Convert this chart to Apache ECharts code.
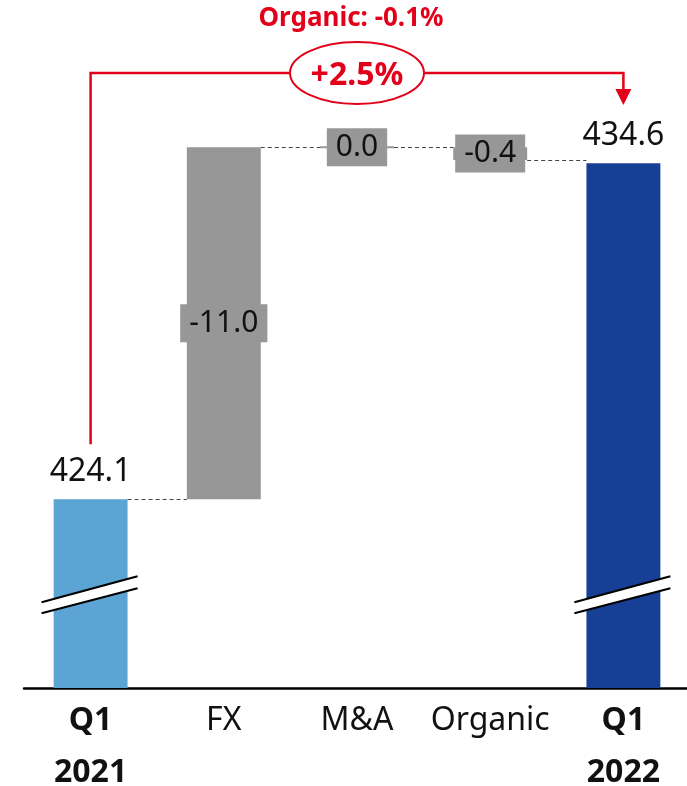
<!DOCTYPE html>
<html>
<head>
<meta charset="utf-8">
<script src="https://cdn.jsdelivr.net/npm/echarts@6/dist/echarts.min.js"></script>
<style>
  html, body { margin: 0; padding: 0; background: #ffffff; }
  #chart { width: 687px; height: 786px; }
</style>
</head>
<body>
<div id="chart"></div>
<script>
// Revenue bridge, Q1 2021 -> Q1 2022
const categories = ['Q1\n2021', 'FX', 'M&A', 'Organic', 'Q1\n2022'];
const openingValue = 424.1;
const closingValue = 434.6;
const stepLabels = [-11.0, 0.0, -0.4];   // values printed on the step bars
const stepMoves = [11.0, 0.0, -0.4];     // signed movement of each step on the bridge
const organicGrowthText = 'Organic: -0.1%';
const totalGrowthText = '+2.5%';
const axisMin = 418.2;
const axisMax = 438.2;
const breakValue = 421.1;                // where the broken-axis marks sit

const FONT = '"Noto Sans", "Open Sans", sans-serif';
const RED = '#E2001A';
const GRAY = '#979797';
const colors = ['#5BA4D4', GRAY, GRAY, GRAY, '#173F96'];

// Build floating bar spans and the connector level after each bar
const spans = [];
const labels = [];
const levels = [];
let level = openingValue;
spans.push([0, axisMin, openingValue]);
labels.push(openingValue.toFixed(1));
levels.push(level);
stepMoves.forEach(function (m, k) {
  const next = level + m;
  spans.push([k + 1, Math.min(level, next), Math.max(level, next)]);
  labels.push(stepLabels[k].toFixed(1));
  level = next;
  levels.push(level);
});
spans.push([4, axisMin, closingValue]);
labels.push(closingValue.toFixed(1));

function renderBar(params, api) {
  const i = api.value(0);
  const low = api.value(1);
  const high = api.value(2);
  const isTotal = (i === 0 || i === categories.length - 1);
  const bw = api.size([1, 0])[0] * 0.555;
  const pTop = api.coord([i, high]);
  const pBot = api.coord([i, low]);
  const cx = pTop[0];
  let y = pTop[1];
  let h = pBot[1] - pTop[1];
  if (h < 2) { y -= 1; h = 2; }
  const children = [{
    type: 'rect',
    shape: { x: cx - bw / 2, y: y, width: bw, height: h },
    style: { fill: colors[i] }
  }];

  // dashed connector to the next bar
  if (i < categories.length - 1) {
    const a = api.coord([i, levels[i]]);
    const b = api.coord([i + 1, levels[i]]);
    const yy = Math.round(a[1]) + 0.5;
    children.push({
      type: 'line',
      shape: { x1: a[0] + bw / 2, y1: yy, x2: b[0] - bw / 2, y2: yy },
      style: { stroke: '#444444', lineWidth: 1, lineDash: [4, 3] },
      z2: 1
    });
  }

  if (isTotal) {
    children.push({
      type: 'text',
      style: {
        text: labels[i], x: cx, y: y - 27,
        align: 'center', verticalAlign: 'middle',
        font: '32px ' + FONT, fill: '#111111'
      }
    });
    // broken-axis marks
    const yb = api.coord([i, breakValue])[1];
    const l = cx - 49, r = cx + 47;
    children.push({
      type: 'polygon',
      shape: { points: [[l, yb + 7], [r, yb - 19], [r, yb - 7], [l, yb + 18]] },
      style: { fill: '#ffffff' }, z2: 5
    });
    children.push({
      type: 'line', shape: { x1: l, y1: yb + 7, x2: r, y2: yb - 19 },
      style: { stroke: '#000000', lineWidth: 2.2 }, z2: 6
    });
    children.push({
      type: 'line', shape: { x1: l, y1: yb + 18, x2: r, y2: yb - 7 },
      style: { stroke: '#000000', lineWidth: 2.2 }, z2: 6
    });
  } else {
    children.push({
      type: 'text',
      style: {
        text: labels[i], x: cx, y: y + h / 2,
        align: 'center', verticalAlign: 'middle',
        font: '30px ' + FONT, fill: '#111111',
        backgroundColor: GRAY, padding: [4, 9]
      },
      z2: 10
    });
  }
  return { type: 'group', children: children };
}

const chart = echarts.init(document.getElementById('chart'), null, { renderer: 'canvas' });

chart.setOption({
  animation: false,
  backgroundColor: '#ffffff',
  grid: { left: 24, right: -3, top: 48, bottom: 98, containLabel: false, outerBoundsMode: 'none' },
  xAxis: {
    type: 'category',
    data: categories,
    axisLine: { lineStyle: { color: '#000000', width: 2.5 } },
    axisTick: { show: false },
    axisLabel: {
      interval: 0,
      margin: 7,
      color: '#111111',
      fontFamily: FONT,
      fontSize: 32,
      lineHeight: 52,
      hideOverlap: false,
      formatter: function (v, idx) {
        if (idx === 0 || idx === categories.length - 1) {
          return v.split('\n').map(function (s) { return '{b|' + s + '}'; }).join('\n');
        }
        return v;
      },
      rich: { b: { fontWeight: 'bold', fontFamily: FONT, fontSize: 32, lineHeight: 52, color: '#111111' } }
    }
  },
  yAxis: {
    type: 'value', min: axisMin, max: axisMax, show: false,
    splitLine: { show: false }
  },
  series: [{
    type: 'custom',
    renderItem: renderBar,
    clip: false,
    encode: { x: 0, y: [1, 2] },
    data: spans
  }]
});

// Growth annotation spanning the two quarters
const pStart = chart.convertToPixel({ gridIndex: 0 }, [0, openingValue]);
const pEnd = chart.convertToPixel({ gridIndex: 0 }, [categories.length - 1, closingValue]);
const pMid = chart.convertToPixel({ gridIndex: 0 }, [2, closingValue]);
const railY = 73;

chart.setOption({
  graphic: [
    {
      type: 'polyline', z: 20,
      shape: { points: [[pStart[0], pStart[1] - 55], [pStart[0], railY], [pEnd[0], railY], [pEnd[0], 90]] },
      style: { stroke: RED, lineWidth: 2.5, fill: null }
    },
    {
      type: 'polygon', z: 20,
      shape: { points: [[pEnd[0] - 8, 89], [pEnd[0] + 8, 89], [pEnd[0], 105]] },
      style: { fill: RED }
    },
    {
      type: 'ellipse', z: 21,
      shape: { cx: pMid[0], cy: railY, rx: 67, ry: 31 },
      style: { fill: '#ffffff', stroke: RED, lineWidth: 2 }
    },
    {
      type: 'text', z: 22,
      style: {
        text: totalGrowthText, x: pMid[0], y: railY + 3,
        align: 'center', verticalAlign: 'middle',
        font: 'bold 32px ' + FONT, fill: RED
      }
    },
    {
      type: 'text', z: 22,
      style: {
        text: organicGrowthText, x: pMid[0] - 6, y: 19,
        align: 'center', verticalAlign: 'middle',
        font: 'bold 26px ' + FONT, fill: RED
      }
    }
  ]
});
</script>
</body>
</html>
